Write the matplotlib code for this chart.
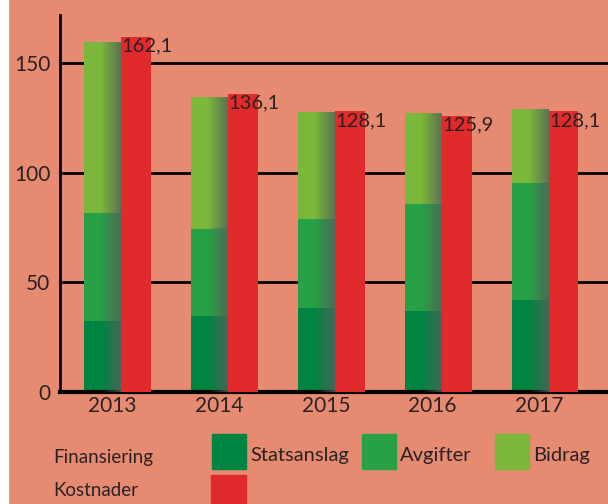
import numpy as np
import matplotlib
matplotlib.use('Agg')
import matplotlib.pyplot as plt
from matplotlib.patches import Rectangle

plt.rcParams['font.family'] = ['Lato', 'DejaVu Sans']

# ── Data ──────────────────────────────────────────────────────────────────────
years = ['2013', '2014', '2015', '2016', '2017']
statsanslag = [32.3, 34.6, 38.3, 36.9, 41.9]
avgifter = [49.2, 39.7, 40.5, 48.7, 53.3]
bidrag = [78.0, 60.1, 48.8, 41.5, 33.7]
kostnader = [162.1, 136.1, 128.1, 125.9, 128.1]
kostnader_labels = ['162,1', '136,1', '128,1', '125,9', '128,1']
yticks = [0, 50, 100, 150]

# ── Style ─────────────────────────────────────────────────────────────────────
bg = '#E68A72'
c_stats = '#008442'
c_avg = '#28A046'
c_bidrag = '#7BB73A'
c_kost = '#E12A2B'
txt = '#2a2222'

fig = plt.figure(figsize=(6.08, 5.04), dpi=100, facecolor=bg)
ax = fig.add_axes([60 / 608, 112 / 504, 548 / 608, 377 / 504])
ax.set_facecolor(bg)

x = np.arange(len(years))
g_off, g_w = -0.26, 0.346
r_off, r_w = 0.084, 0.28

for y in yticks[1:]:
    ax.axhline(y, color='black', lw=2, zorder=1)

# green stacks get a soft grey shadow towards the red bar
bottoms = np.zeros(len(years))
shade = np.zeros((1, 64, 4))
shade[..., 0] = 0.33
shade[..., 1] = 0.38
shade[..., 2] = 0.36
shade[0, :, 3] = np.clip((np.linspace(0, 1, 64) - 0.45) / 0.55, 0, 1) * 0.8

for vals, col in [(statsanslag, c_stats), (avgifter, c_avg), (bidrag, c_bidrag)]:
    ax.bar(x + g_off, vals, g_w, bottom=bottoms, color=col, align='edge', zorder=2, lw=0)
    for i in range(len(years)):
        ax.imshow(shade, extent=(x[i] + g_off, x[i] + g_off + g_w, bottoms[i], bottoms[i] + vals[i]),
                  aspect='auto', zorder=3, interpolation='bilinear')
    bottoms += np.array(vals)

ax.bar(x + r_off, kostnader, r_w, color=c_kost, align='edge', zorder=4, lw=0)
for i, lab in enumerate(kostnader_labels):
    ax.text(x[i] + r_off + 0.005, kostnader[i] - 0.3, lab, ha='left', va='top',
            fontsize=14.5, color=txt, zorder=5)

ax.set_xlim(-0.486, 4.64)
ax.set_ylim(0, 172)
ax.set_xticks(x)
ax.set_xticklabels(years, fontsize=15, color=txt)
ax.set_yticks(yticks)
ax.set_yticklabels([str(t) for t in yticks], fontsize=15, color=txt)
ax.tick_params(length=0, pad=7)
ax.tick_params(axis='x', pad=3)
for s in ['top', 'right']:
    ax.spines[s].set_visible(False)
ax.spines['left'].set_linewidth(2)
ax.spines['bottom'].set_linewidth(3)

# ── Legend ────────────────────────────────────────────────────────────────────
def fx(px):
    return px / 608


def fy(py):
    return 1 - py / 504


fig.patches.append(Rectangle((0, 0), fx(8), 1, color='white', transform=fig.transFigure))
fig.text(fx(53), fy(458), 'Finansiering', fontsize=13.5, color=txt, va='center')
fig.text(fx(53), fy(491), 'Kostnader', fontsize=13.5, color=txt, va='center')
legend_items = [(212, 'Statsanslag', c_stats), (362, 'Avgifter', c_avg), (495, 'Bidrag', c_bidrag)]
for px, lab, col in legend_items:
    fig.patches.append(Rectangle((fx(px), fy(469)), fx(34), 35 / 504, color=col,
                                 transform=fig.transFigure))
    fig.text(fx(px + 38), fy(455), lab, fontsize=14.5, color=txt, va='center')
fig.patches.append(Rectangle((fx(211), fy(504)), fx(35), 29 / 504, color=c_kost,
                             transform=fig.transFigure))

fig.savefig('out.png', dpi=100, facecolor=bg)
